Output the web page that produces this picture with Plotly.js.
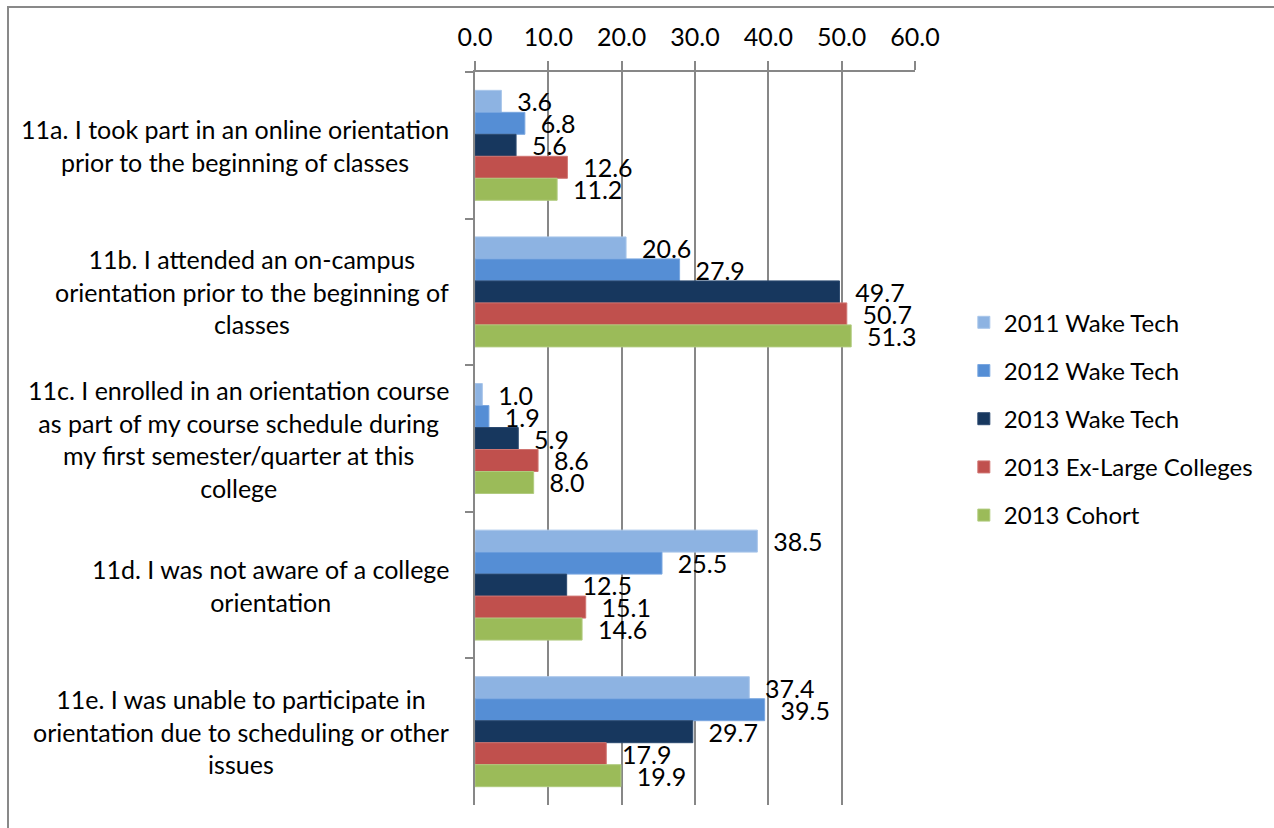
<!DOCTYPE html>
<html>
<head>
<meta charset="utf-8">
<script src="https://cdn.plot.ly/plotly-3.0.1.min.js"></script>
<style>
  html, body { margin: 0; padding: 0; background: #fff; }
  #chart { position: absolute; left: 0; top: 0; width: 1274px; height: 828px; }
  #frame { position: absolute; left: 7px; top: 6px; width: 1270px; height: 830px; border: 2px solid #898989; box-sizing: border-box; pointer-events: none; }
</style>
</head>
<body>
<div id="chart"></div>
<div id="frame"></div>
<script>
const categories = [
  "11a. I took part in an online orientation<br>prior to the beginning of classes",
  "11b. I attended an on-campus<br>orientation prior to the beginning of<br>classes",
  "11c. I enrolled in an orientation course<br>as part of my course schedule during<br>my first semester/quarter at this<br>college",
  "11d. I was not aware of a college<br>orientation",
  "11e. I was unable to participate in<br>orientation due to scheduling or other<br>issues"
];
const seriesNames = ["2011 Wake Tech", "2012 Wake Tech", "2013 Wake Tech", "2013 Ex-Large Colleges", "2013 Cohort"];
const wake2011 = [3.6, 20.6, 1.0, 38.5, 37.4];
const wake2012 = [6.8, 27.9, 1.9, 25.5, 39.5];
const wake2013 = [5.6, 49.7, 5.9, 12.5, 29.7];
const exLarge2013 = [12.6, 50.7, 8.6, 15.1, 17.9];
const cohort2013 = [11.2, 51.3, 8.0, 14.6, 19.9];
const xTicks = [0, 10, 20, 30, 40, 50, 60];

const seriesValues = [wake2011, wake2012, wake2013, exLarge2013, cohort2013];
const colors = ["#8DB3E2", "#558ED5", "#17375E", "#C0504D", "#9BBB59"];
const lineColors = ["#A9C6EA", "#7AA7E0", "#2C4A70", "#D07572", "#B0CB7E"];
const FONT = "Lato, 'Open Sans', sans-serif";
const FS = 25;

const traces = seriesValues.map((vals, i) => ({
  type: "bar",
  orientation: "h",
  name: seriesNames[i],
  legendgroup: "g" + i,
  y: categories,
  x: vals,
  marker: { color: colors[i], line: { color: lineColors[i], width: 1 } },
  text: vals.map(v => v.toFixed(1)),
  texttemplate: "\u00a0\u00a0%{text}",
  textposition: "outside",
  constraintext: "none",
  cliponaxis: false,
  textfont: { family: FONT, size: FS, color: "#000" },
  hoverinfo: "skip"
}));

const annotations = categories.map(c => ({
  xref: "paper", yref: "y",
  x: 0, y: c,
  xanchor: "right", yanchor: "middle",
  xshift: -24,
  align: "center",
  text: c,
  showarrow: false,
  font: { family: FONT, size: FS, color: "#000" }
}));

const layout = {
  width: 1274, height: 828,
  paper_bgcolor: "rgba(0,0,0,0)",
  plot_bgcolor: "#fff",
  margin: { l: 475, r: 359, t: 72, b: 23, pad: 0 },
  barmode: "group",
  bargap: 0.25,
  bargroupgap: 0,
  font: { family: FONT, size: FS, color: "#000" },
  xaxis: {
    side: "top",
    range: [0, 60],
    tickvals: xTicks,
    ticktext: xTicks.map(v => v.toFixed(1)),
    ticks: "outside", ticklen: 9, tickwidth: 2, tickcolor: "#878787",
    ticklabelstandoff: 5,
    showline: true, linecolor: "#878787", linewidth: 2,
    showgrid: true, gridcolor: "#878787", gridwidth: 2,
    zeroline: false,
    tickfont: { family: FONT, size: FS, color: "#000" },
    fixedrange: true
  },
  yaxis: {
    type: "category",
    autorange: "reversed",
    showticklabels: false,
    ticks: "outside", tickson: "boundaries", ticklen: 8, tickwidth: 2, tickcolor: "#878787",
    showline: true, linecolor: "#878787", linewidth: 2,
    showgrid: false, zeroline: false,
    fixedrange: true
  },
  legend: {
    x: 1.111, xanchor: "left",
    y: 0.527, yanchor: "middle",
    traceorder: "grouped",
    tracegroupgap: 14,
    font: { family: FONT, size: 24, color: "#000" },
    bgcolor: "rgba(0,0,0,0)"
  },
  annotations: annotations,
  showlegend: true
};

Plotly.newPlot("chart", traces, layout, { displayModeBar: false, staticPlot: true });
</script>
</body>
</html>
